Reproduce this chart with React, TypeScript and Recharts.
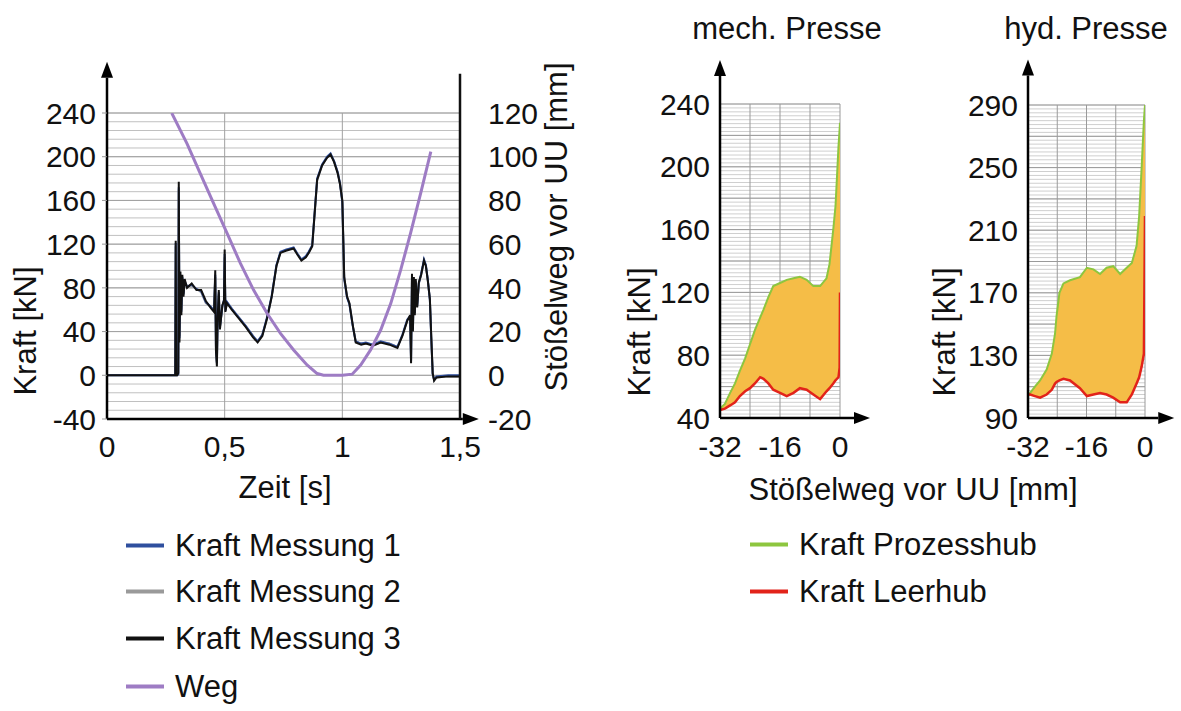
import React from 'react';
import { Area, CartesianGrid, ComposedChart, Line, ReferenceLine, XAxis, YAxis } from 'recharts';

const FONT = '"Liberation Sans", Arial, Helvetica, sans-serif';

// ---- linkes Diagramm: Kraft und Weg über der Zeit ----
const zeitTicks = [0, 0.5, 1, 1.5];
const kraftTicks = [-40, 0, 40, 80, 120, 160, 200, 240];
const wegTicks = [-20, 0, 20, 40, 60, 80, 100, 120];

const kraftZeit = [
  0, 0.1, 0.29, 0.292, 0.294, 0.298, 0.303, 0.305, 0.308, 0.312,
  0.316, 0.32, 0.325, 0.33, 0.34, 0.36, 0.38, 0.4, 0.42, 0.44,
  0.455, 0.46, 0.463, 0.467, 0.47, 0.475, 0.48, 0.49, 0.497, 0.5,
  0.503, 0.51, 0.53, 0.56, 0.59, 0.62, 0.64, 0.66, 0.68, 0.7,
  0.72, 0.737, 0.76, 0.793, 0.81, 0.826, 0.845, 0.857, 0.872, 0.893,
  0.914, 0.935, 0.95, 0.965, 0.98, 0.99, 1.0, 1.008, 1.02, 1.03,
  1.045, 1.057, 1.08, 1.1, 1.13, 1.163, 1.2, 1.234, 1.255, 1.276,
  1.288, 1.292, 1.296, 1.3, 1.304, 1.308, 1.312, 1.318, 1.325, 1.335,
  1.347, 1.355, 1.363, 1.372, 1.378, 1.384, 1.39, 1.4, 1.45, 1.5,
];
const kraftMessung1 = [
  0, 0, 0, 121, 0, 0, 1, 172, 34, 92,
  58, 90, 74, 86, 81, 83, 79, 77, 67, 63,
  59, 92, 25, 11, 52, 76, 44, 63, 69, 111,
  59, 67, 61, 53, 45, 36, 31, 37, 53, 73,
  101, 113, 115, 117, 111, 106, 109, 113, 119, 180,
  193, 200, 203, 196, 186, 176, 158, 88, 71, 65,
  44, 31, 29, 30, 28, 31, 29, 26, 37, 51,
  54, 13, 90, 42, 88, 57, 86, 63, 84, 93,
  106, 101, 88, 69, 33, 1, -4, -1, 0, 0,
];
const kraftMessung2 = [
  0, 0, 0, 118, 0, 0, 1, 170, 36, 90,
  60, 89, 75, 85, 82, 82, 79, 76, 66, 63,
  59, 90, 26, 12, 53, 74, 45, 62, 69, 108,
  60, 67, 61, 53, 45, 36, 31, 37, 52, 72,
  100, 112, 115, 116, 111, 106, 108, 112, 118, 178,
  192, 199, 202, 196, 186, 175, 159, 89, 72, 66,
  45, 31, 29, 29, 28, 30, 29, 26, 36, 50,
  54, 14, 89, 43, 87, 57, 85, 63, 84, 92,
  105, 100, 87, 69, 34, 1, -4, -2, -1, -1,
];
const kraftMessung3 = [
  0, 0, 0, 123, 0, 0, 2, 177, 30, 95,
  55, 92, 72, 88, 80, 84, 78, 78, 68, 62,
  58, 96, 22, 8, 50, 78, 42, 64, 68, 115,
  58, 66, 60, 52, 44, 35, 30, 36, 52, 72,
  100, 112, 114, 116, 110, 105, 108, 112, 118, 179,
  192, 199, 202, 195, 185, 175, 160, 90, 72, 66,
  45, 30, 28, 29, 27, 30, 28, 25, 36, 50,
  55, 11, 93, 40, 90, 55, 88, 62, 85, 92,
  105, 100, 87, 70, 35, 2, -5, -2, -1, -1,
];

const wegZeit = [
  0.275, 0.34, 0.396, 0.453, 0.51, 0.567, 0.623, 0.68, 0.737, 0.793, 0.85, 0.893,
  0.92, 1.0, 1.042, 1.078, 1.12, 1.163, 1.206, 1.248, 1.29, 1.333, 1.376,
];
const wegWerte = [
  120, 106, 92.4, 78.7, 65, 51.2, 39, 28.4, 19.2, 11.6, 4.7, 0.8,
  0, 0, 0.5, 4.7, 11.6, 20.7, 32.9, 48.2, 65, 83.3, 102.3,
];

// ---- rechte Diagramme: Kraft über Stößelweg ----
const presseTicksX = [-32, -16, 0];
const presseGridX = [-24, -16, -8, 0];

const mechTicksY = [40, 80, 120, 160, 200, 240];
const mechWeg = [
  -32, -30.7, -29.3, -28, -26.7, -25.3, -24, -22.7, -21.3, -20.4, -19.1, -17.8, -16, -14.2,
  -12.4, -10.7, -8.9, -7.1, -5.3, -3.6, -2.8, -1.8, -1.2, -0.8, -0.4, -0.1, 0,
];
const mechProzesshub = [
  46, 49, 56, 62, 70, 78, 87, 96, 104, 109, 117, 124, 126, 128,
  129, 130, 128, 124, 124, 129, 138, 160, 175, 194, 213, 224, 228,
];
const mechLeerhub = [
  45, 46, 48, 50, 54, 57, 59, 62, 66, 65, 62, 58, 56, 54,
  56, 59, 58, 55, 52, 57, 59, 62, 64, 65, 66, 72, 120,
];

const hydTicksY = [90, 130, 170, 210, 250, 290];
const hydWeg = [
  -32, -31.4, -30.1, -28.7, -26.9, -25.5, -24.6, -24.2, -23.4, -22.3, -20.5, -17.8, -15.9,
  -14.1, -12.3, -10.5, -8.7, -6.8, -5, -3.6, -2.3, -1.6, -0.9, -0.3, 0,
];
const hydProzesshub = [
  104, 106, 110, 114, 121, 131, 144, 155, 170, 176, 178, 180, 186,
  185, 182, 186, 187, 182, 186, 189, 200, 219, 251, 280, 290,
];
const hydLeerhub = [
  105, 105, 104, 103, 105, 108, 112, 113, 114, 115, 114, 109, 104,
  105, 106, 105, 103, 100, 100, 105, 112, 116, 123, 131, 219,
];

const legendLinks = ['Kraft Messung 1', 'Kraft Messung 2', 'Kraft Messung 3', 'Weg'];
const legendRechts = ['Kraft Prozesshub', 'Kraft Leerhub'];

const COL = {
  m1: '#2f4f9e',
  m2: '#9a9a9a',
  m3: '#111111',
  weg: '#9e7cc4',
  prozess: '#8dc63f',
  leer: '#e2231a',
  fill: '#f5bd47',
};

const steps = (from: number, to: number, step: number) => {
  const out: number[] = [];
  for (let v = from; v <= to + 1e-9; v += step) out.push(Math.round(v * 100) / 100);
  return out;
};

const kraftRows = kraftZeit.map((t, i) => ({
  t,
  m1: kraftMessung1[i],
  m2: kraftMessung2[i],
  m3: kraftMessung3[i],
}));
const wegRows = wegZeit.map((t, i) => ({ t, weg: wegWerte[i] }));

const pressRows = (s: number[], prozess: number[], leer: number[]) =>
  s.map((v, i) => ({ s: v, prozess: prozess[i], leer: leer[i], band: [leer[i], prozess[i]] }));

const tickStyle = { fill: '#111', fontSize: 30, fontFamily: FONT };

// axis line with arrow head at the second point
function ArrowShape(props: any) {
  const { x1, y1, x2, y2 } = props;
  const a = Math.atan2(y2 - y1, x2 - x1);
  const len = 16;
  const half = 6;
  const bx = x2 - len * Math.cos(a);
  const by = y2 - len * Math.sin(a);
  const px = -Math.sin(a) * half;
  const py = Math.cos(a) * half;
  return (
    <g>
      <line x1={x1} y1={y1} x2={bx} y2={by} stroke="#000" strokeWidth={2.5} />
      <path d={`M${x2},${y2}L${bx + px},${by + py}L${bx - px},${by - py}Z`} fill="#000" />
    </g>
  );
}

function Label({ x, y, text, rotate = false, size = 31 }: { x: number; y: number; text: string; rotate?: boolean; size?: number }) {
  return (
    <div
      style={{
        position: 'absolute',
        left: x,
        top: y,
        transform: `translate(-50%, -50%)${rotate ? ' rotate(-90deg)' : ''}`,
        fontSize: size,
        lineHeight: 1,
        whiteSpace: 'nowrap',
      }}
    >
      {text}
    </div>
  );
}

function LegendItem({ x, y, color, text }: { x: number; y: number; color: string; text: string }) {
  return (
    <div
      style={{
        position: 'absolute',
        left: x,
        top: y,
        transform: 'translateY(-50%)',
        display: 'flex',
        alignItems: 'center',
        fontSize: 31,
        lineHeight: 1,
        whiteSpace: 'nowrap',
      }}
    >
      <span style={{ display: 'inline-block', width: 38, height: 4, background: color, marginRight: 11 }} />
      {text}
    </div>
  );
}

function ZeitChart() {
  return (
    <div style={{ position: 'absolute', left: 0, top: 0 }}>
      <ComposedChart width={600} height={520} margin={{ top: 113, right: 80, bottom: 71, left: 47 }}>
        <CartesianGrid yAxisId="kraft" horizontalValues={steps(-40, 240, 8)} vertical={false} stroke="#c0c0c0" />
        <CartesianGrid yAxisId="kraft" horizontalValues={kraftTicks} verticalValues={[0.5, 1]} stroke="#a0a0a0" />
        <XAxis
          dataKey="t"
          type="number"
          domain={[0, 1.5]}
          ticks={zeitTicks}
          interval={0}
          tickFormatter={(v) => String(v).replace('.', ',')}
          axisLine={false}
          tickLine={false}
          tickMargin={11}
          height={30}
          tick={tickStyle}
          allowDataOverflow
        />
        <YAxis
          yAxisId="kraft"
          type="number"
          domain={[-40, 240]}
          ticks={kraftTicks}
          interval={0}
          axisLine={false}
          tickLine={{ stroke: '#999' }}
          tickSize={5}
          tickMargin={6}
          width={60}
          tick={tickStyle}
          allowDataOverflow
        />
        <YAxis
          yAxisId="weg"
          orientation="right"
          type="number"
          domain={[-20, 120]}
          ticks={wegTicks}
          interval={0}
          axisLine={false}
          tickLine={false}
          tickMargin={22}
          width={60}
          tick={tickStyle}
          allowDataOverflow
        />
        <Line yAxisId="kraft" data={kraftRows} dataKey="m2" stroke={COL.m2} strokeWidth={2} dot={false} isAnimationActive={false} />
        <Line yAxisId="kraft" data={kraftRows} dataKey="m1" stroke={COL.m1} strokeWidth={2} dot={false} isAnimationActive={false} />
        <Line yAxisId="kraft" data={kraftRows} dataKey="m3" stroke={COL.m3} strokeWidth={2} dot={false} isAnimationActive={false} />
        <Line yAxisId="weg" data={wegRows} dataKey="weg" stroke={COL.weg} strokeWidth={3} dot={false} isAnimationActive={false} />
        <ReferenceLine yAxisId="kraft" segment={[{ x: 0, y: -40 }, { x: 1.58, y: -40 }]} ifOverflow="visible" shape={ArrowShape} />
        <ReferenceLine yAxisId="kraft" segment={[{ x: 0, y: -40 }, { x: 0, y: 287 }]} ifOverflow="visible" shape={ArrowShape} />
        <ReferenceLine yAxisId="weg" segment={[{ x: 1.5, y: -20 }, { x: 1.5, y: 138 }]} ifOverflow="visible" stroke="#111" strokeWidth={2.5} />
      </ComposedChart>
    </div>
  );
}

type PressProps = {
  left: number;
  width: number;
  margin: { top: number; right: number; bottom: number; left: number };
  rows: any[];
  yMin: number;
  yMax: number;
  yTicks: number[];
  yArrow: number;
};

function PressChart({ left, width, margin, rows, yMin, yMax, yTicks, yArrow }: PressProps) {
  return (
    <div style={{ position: 'absolute', left, top: 0 }}>
      <ComposedChart width={width} height={470} data={rows} margin={margin}>
        <CartesianGrid horizontalValues={steps(yMin, yMax, 2.5)} vertical={false} stroke="#cfcfcf" />
        <CartesianGrid horizontalValues={steps(yMin, yMax, 20)} verticalValues={presseGridX} stroke="#9a9a9a" />
        <XAxis
          dataKey="s"
          type="number"
          domain={[-32, 0]}
          ticks={presseTicksX}
          interval={0}
          axisLine={false}
          tickLine={false}
          tickMargin={12}
          height={30}
          tick={tickStyle}
          allowDataOverflow
        />
        <YAxis
          type="number"
          domain={[yMin, yMax]}
          ticks={yTicks}
          interval={0}
          axisLine={false}
          tickLine={false}
          tickMargin={4}
          width={60}
          tick={tickStyle}
          allowDataOverflow
        />
        <Area dataKey="band" type="linear" stroke="none" fill={COL.fill} fillOpacity={1} isAnimationActive={false} />
        <Line dataKey="prozess" stroke={COL.prozess} strokeWidth={2} dot={false} isAnimationActive={false} />
        <Line dataKey="leer" stroke={COL.leer} strokeWidth={2.5} dot={false} isAnimationActive={false} />
        <ReferenceLine segment={[{ x: -32, y: yMin }, { x: 8, y: yMin }]} ifOverflow="visible" shape={ArrowShape} />
        <ReferenceLine segment={[{ x: -32, y: yMin }, { x: -32, y: yArrow }]} ifOverflow="visible" shape={ArrowShape} />
      </ComposedChart>
    </div>
  );
}

export default function App() {
  const linksFarben = [COL.m1, COL.m2, COL.m3, COL.weg];
  const linksY = [545, 591, 638, 686];
  const rechtsFarben = [COL.prozess, COL.leer];
  const rechtsY = [544, 591];
  return (
    <div
      style={{
        position: 'absolute',
        left: 0,
        top: 0,
        width: 1181,
        height: 711,
        overflow: 'hidden',
        background: '#fff',
        color: '#111',
        fontFamily: FONT,
      }}
    >
      <ZeitChart />
      <PressChart
        left={600}
        width={300}
        margin={{ top: 104, right: 60, bottom: 22, left: 60 }}
        rows={pressRows(mechWeg, mechProzesshub, mechLeerhub)}
        yMin={40}
        yMax={240}
        yTicks={mechTicksY}
        yArrow={268}
      />
      <PressChart
        left={900}
        width={281}
        margin={{ top: 105, right: 36, bottom: 22, left: 68 }}
        rows={pressRows(hydWeg, hydProzesshub, hydLeerhub)}
        yMin={90}
        yMax={290}
        yTicks={hydTicksY}
        yArrow={319}
      />

      <Label x={25} y={331} text="Kraft [kN]" rotate />
      <Label x={556} y={227} text="Stößelweg vor UU [mm]" rotate />
      <Label x={285} y={487} text="Zeit [s]" />
      <Label x={787} y={28} text="mech. Presse" />
      <Label x={1086} y={28} text="hyd. Presse" />
      <Label x={639} y={332} text="Kraft [kN]" rotate />
      <Label x={944} y={332} text="Kraft [kN]" rotate />
      <Label x={913} y={489} text="Stößelweg vor UU [mm]" />

      {legendLinks.map((name, i) => (
        <LegendItem key={name} x={126} y={linksY[i]} color={linksFarben[i]} text={name} />
      ))}
      {legendRechts.map((name, i) => (
        <LegendItem key={name} x={750} y={rechtsY[i]} color={rechtsFarben[i]} text={name} />
      ))}
    </div>
  );
}
